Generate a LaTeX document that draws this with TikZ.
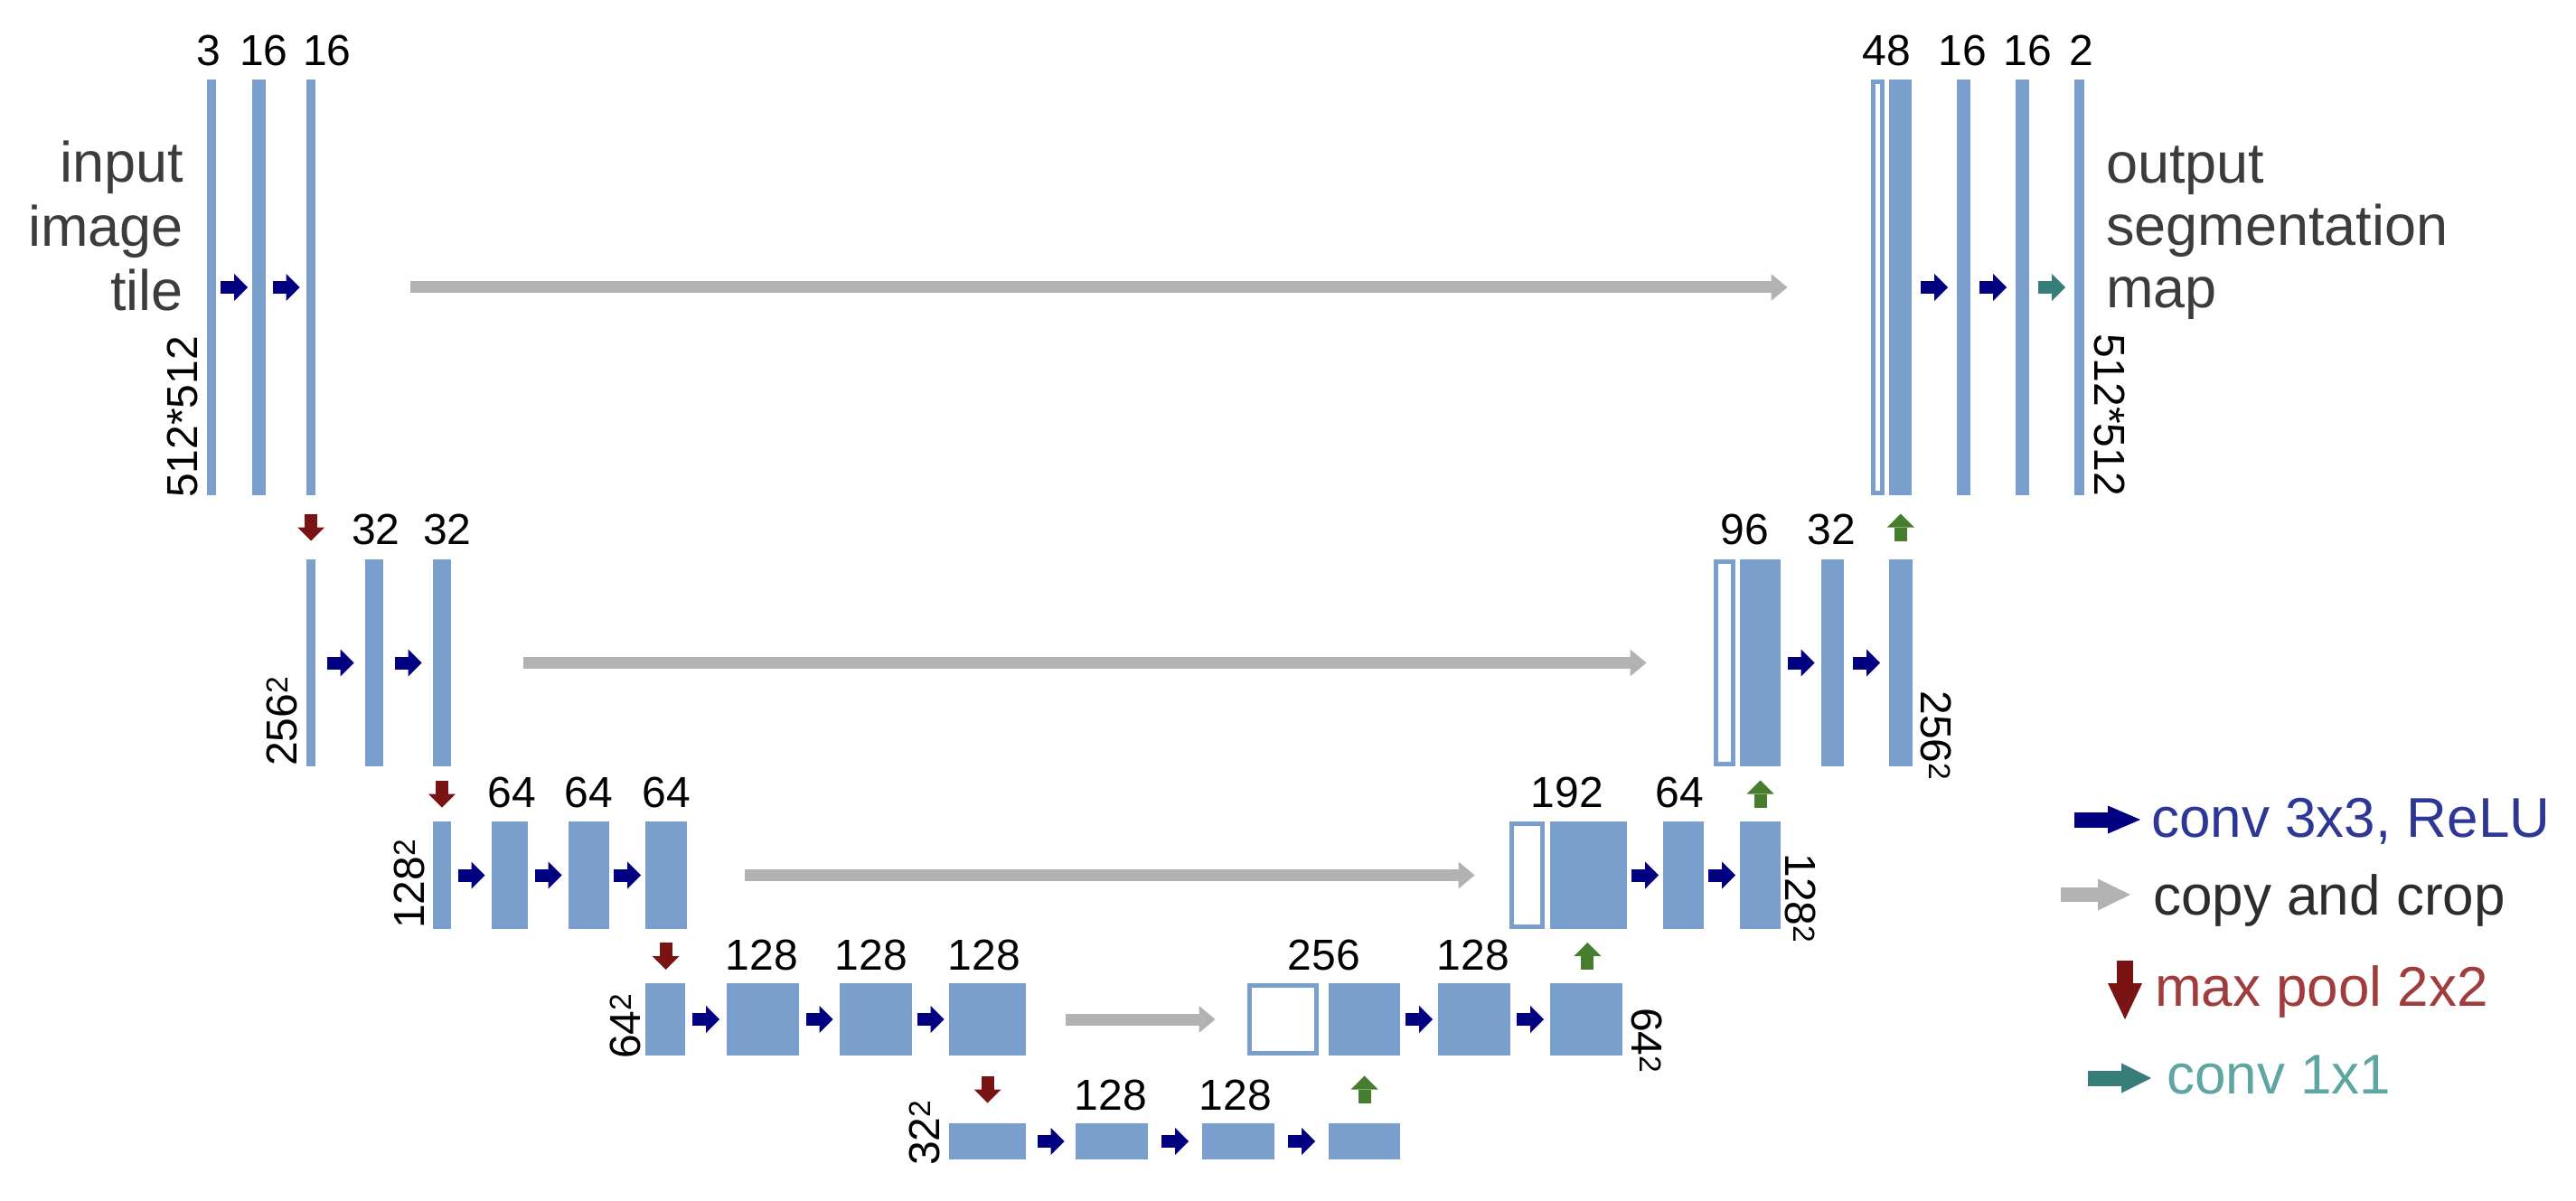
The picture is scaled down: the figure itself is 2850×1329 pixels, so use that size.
\documentclass[tikz,border=0pt]{standalone}
\usepackage{fontspec}
\setmainfont{Liberation Sans}
\usetikzlibrary{arrows.meta,calc}
\definecolor{barblue}{RGB}{122,159,204}
\definecolor{convc}{RGB}{0,0,128}
\definecolor{copyc}{RGB}{178,178,178}
\definecolor{poolc}{RGB}{122,20,20}
\definecolor{upc}{RGB}{70,126,46}
\definecolor{onec}{RGB}{55,126,122}
\definecolor{bigtext}{RGB}{60,60,60}
\definecolor{legblue}{RGB}{45,55,150}
\definecolor{legred}{RGB}{160,60,60}
\definecolor{legteal}{RGB}{95,165,162}
\definecolor{leggrey}{RGB}{45,45,45}
\newcommand{\fmap}[5]{\node[fmapbox, minimum width={(#3-#2)*1pt}, minimum height={(#5-#4)*1pt}] (#1) at ({(#2+#3)/2},{(#4+#5)/2}) {};}
\newcommand{\holbox}[5]{\node[hollowbox, minimum width={(#3-#2-5)*1pt}, minimum height={(#5-#4-5)*1pt}] (#1) at ({(#2+#3)/2},{(#4+#5)/2}) {};}
\newcommand{\harr}[3]{\draw[#1] ($(#2.east)!.5!(#3.west)+(-15,0)$) -- ($(#2.east)!.5!(#3.west)+(15,0)$);}
\newcommand{\poolarrow}[2]{\draw[poolarr] ($(#1.south)!.5!(#2.north)+(0,-15)$) -- ($(#1.south)!.5!(#2.north)+(0,15)$);}
\newcommand{\uparr}[2]{\draw[uparrow] ($(#1.north)!.5!(#2.south)+(0,15)$) -- ($(#1.north)!.5!(#2.south)+(0,-15)$);}
\newcommand{\flab}[4]{\node[numlbl] (#1) at (#2,#3) {#4};}
\begin{document}
\begin{tikzpicture}[x=1pt,y=-1pt,
  fmapbox/.style={rectangle, fill=barblue, draw=none, inner sep=0pt, outer sep=0pt},
  hollowbox/.style={rectangle, draw=barblue, line width=5pt, fill=white, inner sep=0pt, outer sep=0pt},
  convarr/.style={draw=convc, line width=14pt, -{Triangle[length=15pt,width=30pt,line width=0pt]}},
  onearr/.style={convarr, draw=onec},
  copyarr/.style={draw=copyc, line width=13pt, -{Triangle[length=18pt,width=30pt,line width=0pt]}},
  poolarr/.style={draw=poolc, line width=14pt, -{Triangle[length=15pt,width=30pt,line width=0pt]}},
  uparrow/.style={draw=upc, line width=14pt, -{Triangle[length=15pt,width=30pt,line width=0pt]}},
  numlbl/.style={font=\fontsize{48}{48}\selectfont, anchor=base, inner sep=0pt},
  dimlbl/.style={font=\fontsize{48}{48}\selectfont, inner sep=0pt},
  bigtxt/.style={font=\fontsize{63}{63}\selectfont, text=bigtext, inner sep=0pt},
  legtxt/.style={font=\fontsize{62}{62}\selectfont, inner sep=0pt, anchor=base west},
  legconv/.style={draw=convc, line width=17pt, -{Triangle[length=36pt,width=31pt,line width=0pt]}},
  legcopy/.style={draw=copyc, line width=16pt, -{Triangle[length=36pt,width=35pt,line width=0pt]}},
  legpool/.style={draw=poolc, line width=18pt, -{Triangle[length=40pt,width=38pt,line width=0pt]}},
  legone/.style={draw=onec, line width=17pt, -{Triangle[length=33pt,width=33pt,line width=0pt]}},
]
\useasboundingbox (0,0) rectangle (2850,1329);
% ---- level 1
\fmap{a1}{229}{239}{88}{548}
\fmap{a2}{279}{294}{88}{548}
\fmap{a3}{339}{349}{88}{548}
\holbox{r1h}{2070}{2085}{88}{548}
\fmap{r1a}{2090}{2115}{88}{548}
\fmap{r1b}{2165}{2180}{88}{548}
\fmap{r1c}{2230}{2245}{88}{548}
\fmap{r1d}{2295}{2306}{88}{548}
% ---- level 2
\fmap{b1}{339}{349}{619}{848}
\fmap{b2}{404}{424}{619}{848}
\fmap{b3}{479}{499}{619}{848}
\holbox{r2h}{1896}{1920}{619}{848}
\fmap{r2a}{1925}{1970}{619}{848}
\fmap{r2b}{2015}{2040}{619}{848}
\fmap{r2c}{2090}{2116}{619}{848}
% ---- level 3
\fmap{c1}{479}{499}{909}{1028}
\fmap{c2}{544}{584}{909}{1028}
\fmap{c3}{629}{674}{909}{1028}
\fmap{c4}{714}{760}{909}{1028}
\holbox{r3h}{1670}{1709}{909}{1028}
\fmap{r3a}{1715}{1800}{909}{1028}
\fmap{r3b}{1840}{1885}{909}{1028}
\fmap{r3c}{1925}{1970}{909}{1028}
% ---- level 4
\fmap{d1}{714}{758}{1088}{1168}
\fmap{d2}{804}{884}{1088}{1168}
\fmap{d3}{929}{1009}{1088}{1168}
\fmap{d4}{1050}{1135}{1088}{1168}
\holbox{r4h}{1380}{1459}{1088}{1168}
\fmap{r4a}{1470}{1549}{1088}{1168}
\fmap{r4b}{1591}{1671}{1088}{1168}
\fmap{r4c}{1715}{1795}{1088}{1168}
% ---- level 5
\fmap{e1}{1050}{1135}{1243}{1283}
\fmap{e2}{1190}{1270}{1243}{1283}
\fmap{e3}{1330}{1410}{1243}{1283}
\fmap{e4}{1470}{1549}{1243}{1283}
% ---- conv arrows
\harr{convarr}{a1}{a2}
\harr{convarr}{a2}{a3}
\harr{convarr}{r1a}{r1b}
\harr{convarr}{r1b}{r1c}
\harr{onearr}{r1c}{r1d}
\harr{convarr}{b1}{b2}
\harr{convarr}{b2}{b3}
\harr{convarr}{r2a}{r2b}
\harr{convarr}{r2b}{r2c}
\harr{convarr}{c1}{c2}
\harr{convarr}{c2}{c3}
\harr{convarr}{c3}{c4}
\harr{convarr}{r3a}{r3b}
\harr{convarr}{r3b}{r3c}
\harr{convarr}{d1}{d2}
\harr{convarr}{d2}{d3}
\harr{convarr}{d3}{d4}
\harr{convarr}{r4a}{r4b}
\harr{convarr}{r4b}{r4c}
\harr{convarr}{e1}{e2}
\harr{convarr}{e2}{e3}
\harr{convarr}{e3}{e4}
% ---- copy and crop
\draw[copyarr, shorten <=105pt, shorten >=95pt] (a3.east) -- (r1h.west);
\draw[copyarr, shorten <=80pt, shorten >=77pt] (b3.east) -- (r2h.west);
\draw[copyarr, shorten <=64pt, shorten >=41pt] (c4.east) -- (r3h.west);
\draw[copyarr, shorten <=44pt, shorten >=38pt] (d4.east) -- (r4h.west);
% ---- max pool
\poolarrow{a3}{b1}
\poolarrow{b3}{c1}
\poolarrow{c4}{d1}
\poolarrow{d4}{e1}
% ---- up-conv
\uparr{e4}{r4a}
\uparr{r4c}{r3a}
\uparr{r3c}{r2a}
\uparr{r2c}{r1a}
% ---- channel labels
\flab{t1}{231}{73}{3}
\flab{t2}{292}{73}{16}
\flab{t3}{362}{73}{16}
\flab{t4}{2087}{73}{48}
\flab{t5}{2171}{73}{16}
\flab{t6}{2243}{73}{16}
\flab{t7}{2303}{73}{2}
\flab{u1}{416}{602}{32}
\flab{u2}{495}{602}{32}
\flab{u3}{1930}{602}{96}
\flab{u4}{2026}{602}{32}
\flab{v1}{566}{893}{64}
\flab{v2}{651}{893}{64}
\flab{v3}{737}{893}{64}
\flab{v4}{1734}{893}{192}
\flab{v5}{1858}{893}{64}
\flab{w1}{843}{1073}{128}
\flab{w2}{964}{1073}{128}
\flab{w3}{1089}{1073}{128}
\flab{w4}{1465}{1073}{256}
\flab{w5}{1630}{1073}{128}
\flab{x1}{1229}{1228}{128}
\flab{x2}{1367}{1228}{128}
% ---- size labels
\node[dimlbl, rotate=90, anchor=base west] (s1l) at (218,551) {512*512};
\node[dimlbl, rotate=90, anchor=base west] (s2l) at (328,848) {256\textsuperscript{2}};
\node[dimlbl, rotate=90, anchor=base west] (s3l) at (469,1028) {128\textsuperscript{2}};
\node[dimlbl, rotate=90, anchor=base west] (s4l) at (708,1172) {64\textsuperscript{2}};
\node[dimlbl, rotate=90, anchor=base west] (s5l) at (1039,1290) {32\textsuperscript{2}};
\node[dimlbl, rotate=-90, anchor=base east] (s1r) at (2317,549) {512*512};
\node[dimlbl, rotate=-90, anchor=base east] (s2r) at (2125,864) {256\textsuperscript{2}};
\node[dimlbl, rotate=-90, anchor=base east] (s3r) at (1975,1044) {128\textsuperscript{2}};
\node[dimlbl, rotate=-90, anchor=base east] (s4r) at (1805,1188) {64\textsuperscript{2}};
% ---- input / output text
\node[bigtxt, anchor=base east] (in1) at (203,202) {input};
\node[bigtxt, anchor=base east] (in2) at (203,273) {image};
\node[bigtxt, anchor=base east] (in3) at (203,344) {tile};
\node[bigtxt, anchor=base west] (out1) at (2330,203) {output};
\node[bigtxt, anchor=base west] (out2) at (2330,272) {segmentation};
\node[bigtxt, anchor=base west] (out3) at (2330,341) {map};
% ---- legend
\node[legtxt, text=legblue] (lg1) at (2380,926) {conv 3x3, ReLU};
\node[legtxt, text=leggrey] (lg2) at (2382,1012) {copy and crop};
\node[legtxt, text=legred] (lg3) at (2384,1113) {max pool 2x2};
\node[legtxt, text=legteal] (lg4) at (2397,1210) {conv 1x1};
\coordinate (lg1s) at (2295,907);
\coordinate (lg1e) at (2368,907);
\coordinate (lg2s) at (2280,990);
\coordinate (lg2e) at (2357,990);
\coordinate (lg3s) at (2351,1063);
\coordinate (lg3e) at (2351,1128);
\coordinate (lg4s) at (2310,1193);
\coordinate (lg4e) at (2380,1193);
\draw[legconv] (lg1s) -- (lg1e);
\draw[legcopy] (lg2s) -- (lg2e);
\draw[legpool] (lg3s) -- (lg3e);
\draw[legone] (lg4s) -- (lg4e);
\end{tikzpicture}
\end{document}
